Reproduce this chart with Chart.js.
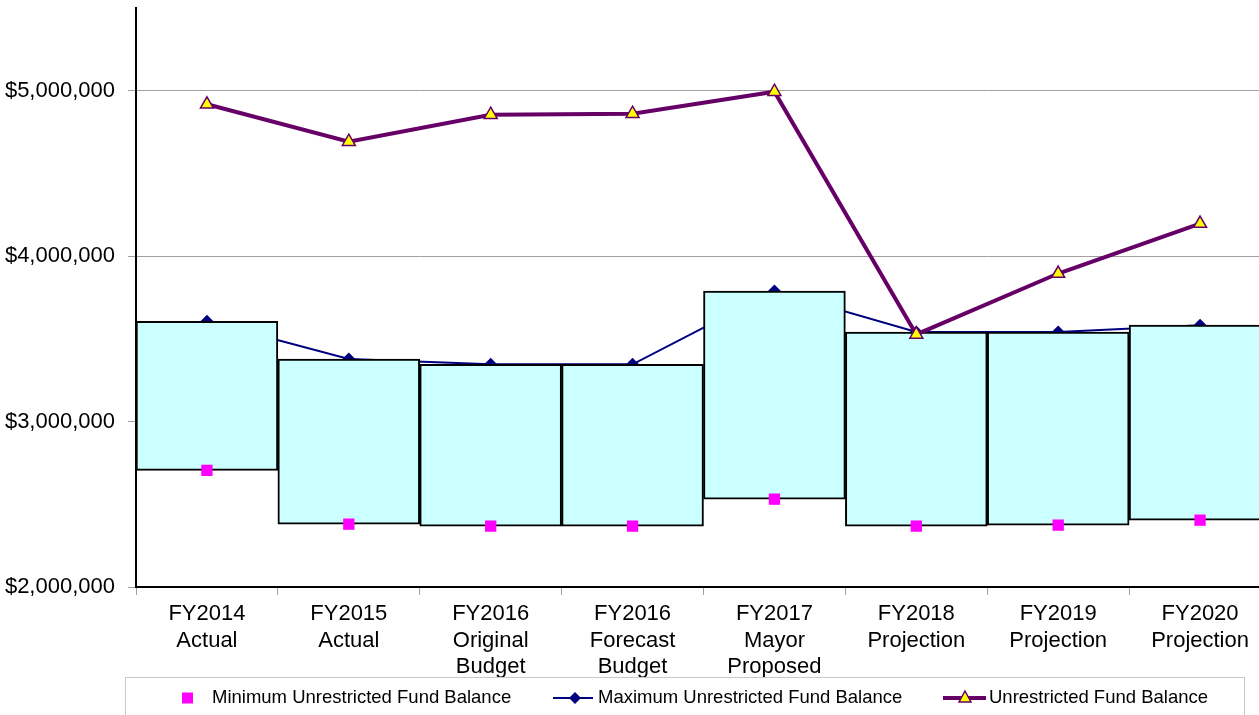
<!DOCTYPE html>
<html>
<head>
<meta charset="utf-8">
<script src="https://cdn.jsdelivr.net/npm/chart.js@4/dist/chart.umd.min.js"></script>
<style>
  html, body { margin: 0; padding: 0; background: #fff; overflow: hidden; }
  #myChart { display: block; }
</style>
</head>
<body>
<canvas id="myChart" width="1271" height="715"></canvas>
<script>
const CHART = document.getElementById("myChart");

// data
const categories = [
  ["FY2014", "Actual"],
  ["FY2015", "Actual"],
  ["FY2016", "Original", "Budget"],
  ["FY2016", "Forecast", "Budget"],
  ["FY2017", "Mayor", "Proposed"],
  ["FY2018", "Projection"],
  ["FY2019", "Projection"],
  ["FY2020", "Projection"]
];
const minBalance = [2705000, 2380000, 2368000, 2368000, 2531000, 2368000, 2374000, 2404000];
const maxBalance = [3606000, 3378000, 3346000, 3346000, 3789000, 3541000, 3541000, 3583000];
const fundBalance = [4918000, 4692000, 4855000, 4861000, 4994000, 3527000, 3895000, 4197000];
const yTicks = [2000000, 3000000, 4000000, 5000000];

const seriesNames = [
  "Minimum Unrestricted Fund Balance",
  "Maximum Unrestricted Fund Balance",
  "Unrestricted Fund Balance"
];

var ranges = [];
for (var i = 0; i < categories.length; i++) {
  ranges.push([minBalance[i], maxBalance[i]]);
}

const FONT = "'Liberation Sans', Arial, sans-serif";
const NAVY = "#000080";
const PURPLE = "#660066";
const MAGENTA = "#ff00ff";
const YELLOW = "#ffff00";

// legend drawn in the canvas, Excel style (line + marker)
const excelLegend = {
  id: "excelLegend",
  afterDraw(chart) {
    const ctx = chart.ctx;
    ctx.save();
    ctx.strokeStyle = "#c8c8c8";
    ctx.lineWidth = 1;
    ctx.strokeRect(125.5, 677.5, 1119, 60);

    const cy = 698;
    ctx.font = "18.5px " + FONT;
    ctx.fillStyle = "#000";
    ctx.textBaseline = "middle";
    ctx.textAlign = "left";

    // minimum: magenta square
    ctx.fillStyle = MAGENTA;
    ctx.fillRect(182, cy - 5.5, 11, 11);
    ctx.fillStyle = "#000";
    ctx.fillText(seriesNames[0], 212, cy);

    // maximum: navy line with diamond
    ctx.strokeStyle = NAVY;
    ctx.lineWidth = 2;
    ctx.beginPath();
    ctx.moveTo(553, cy); ctx.lineTo(593, cy);
    ctx.stroke();
    ctx.fillStyle = NAVY;
    ctx.beginPath();
    ctx.moveTo(575, cy - 6); ctx.lineTo(581, cy); ctx.lineTo(575, cy + 6); ctx.lineTo(569, cy);
    ctx.closePath();
    ctx.fill();
    ctx.fillStyle = "#000";
    ctx.fillText(seriesNames[1], 598, cy);

    // fund balance: purple line with yellow triangle
    ctx.strokeStyle = PURPLE;
    ctx.lineWidth = 4;
    ctx.beginPath();
    ctx.moveTo(943, cy); ctx.lineTo(986, cy);
    ctx.stroke();
    ctx.fillStyle = YELLOW;
    ctx.strokeStyle = PURPLE;
    ctx.lineWidth = 1.5;
    ctx.beginPath();
    ctx.moveTo(965, cy - 7); ctx.lineTo(971, cy + 4); ctx.lineTo(959, cy + 4);
    ctx.closePath();
    ctx.fill();
    ctx.stroke();
    ctx.fillStyle = "#000";
    ctx.fillText(seriesNames[2], 989, cy);
    ctx.restore();
  }
};

let chart = new Chart(CHART, {
  type: "bar",
  data: {
    labels: categories,
    datasets: [
      {
        type: "line",
        label: seriesNames[2],
        data: fundBalance,
        order: 0,
        borderColor: PURPLE,
        borderWidth: 4,
        pointStyle: "triangle",
        pointRadius: 7.5,
        pointBackgroundColor: YELLOW,
        pointBorderColor: PURPLE,
        pointBorderWidth: 1.5,
        tension: 0,
        fill: false
      },
      {
        type: "line",
        label: seriesNames[0],
        data: minBalance,
        order: 1,
        showLine: false,
        pointStyle: "rect",
        pointRadius: 8,
        pointBackgroundColor: MAGENTA,
        pointBorderColor: MAGENTA,
        pointBorderWidth: 0
      },
      {
        label: "Range",
        data: ranges,
        order: 2,
        backgroundColor: "#ccffff",
        borderColor: "#000",
        borderWidth: 2,
        borderSkipped: false,
        barPercentage: 1,
        categoryPercentage: 1
      },
      {
        type: "line",
        label: seriesNames[1],
        data: maxBalance,
        order: 3,
        borderColor: NAVY,
        borderWidth: 2,
        pointStyle: "rectRot",
        pointRadius: 6.5,
        pointBackgroundColor: NAVY,
        pointBorderColor: NAVY,
        pointBorderWidth: 0,
        tension: 0,
        fill: false
      }
    ]
  },
  options: {
    responsive: false,
    animation: false,
    devicePixelRatio: 1,
    layout: { autoPadding: false, padding: { top: 8, left: 0, right: 0, bottom: 0 } },
    plugins: {
      legend: { display: false },
      tooltip: { enabled: false }
    },
    scales: {
      x: {
        offset: true,
        grid: {
          offset: true,
          drawOnChartArea: false,
          drawTicks: true,
          tickLength: 8,
          color: "#a0a0a0"
        },
        border: { color: "#000", width: 2 },
        ticks: {
          color: "#000",
          font: { family: FONT, size: 22, lineHeight: 1.2 },
          maxRotation: 0,
          autoSkip: false,
          padding: 6
        },
        afterFit(scale) {
          scale.height = 128;
          scale.paddingLeft = 0;
          scale.paddingRight = 0;
        }
      },
      y: {
        min: 2000000,
        max: 5500000,
        grid: {
          color: "#a0a0a0",
          tickLength: 8
        },
        border: { color: "#000", width: 2 },
        ticks: {
          stepSize: 1000000,
          color: "#000",
          padding: 13,
          font: { family: FONT, size: 22 },
          callback: function(v) { return "$" + v.toLocaleString("en-US"); }
        },
        afterBuildTicks(scale) {
          scale.ticks = yTicks.map(function(v) { return { value: v }; });
        },
        afterFit(scale) {
          scale.width = 136;
          scale.paddingTop = 0;
          scale.paddingBottom = 0;
        }
      }
    }
  },
  plugins: [excelLegend]
});
</script>
</body>
</html>
